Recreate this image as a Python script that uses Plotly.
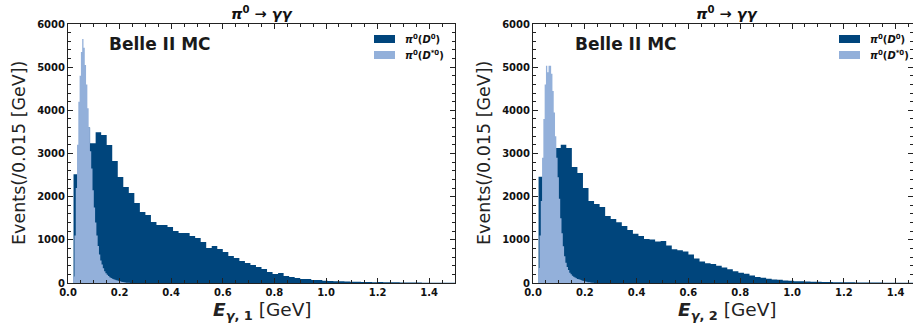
import numpy as np
import plotly.graph_objects as go

# ---------------- data ----------------
# pi0(D0): 70 bins on [0, 1.5] GeV; counts start at bin index 1 (first bin empty)
d0_nbins = 70
d0_range = (0.0, 1.5)
d0_first_bin = 1
d0_counts_g1 = [2520, 3870, 3600, 3236, 3491, 3429, 3197, 2826, 2456, 2224,
                2085, 1853, 1645, 1575, 1413, 1344, 1344, 1297, 1204, 1158,
                1158, 1089, 1042, 950, 811, 857, 788, 718, 625, 579,
                510, 463, 417, 371, 324, 255, 208, 232, 162, 139,
                116, 93, 93, 70, 70, 50, 46, 42, 38, 33,
                30, 27, 24, 22, 20, 26, 18, 16, 15, 13,
                12, 10, 10, 8, 8, 6, 6, 5, 5]
d0_counts_g2 = [2460, 3540, 3350, 3130, 3200, 3130, 2690, 2550, 2200, 1900,
                1830, 1760, 1550, 1480, 1410, 1320, 1230, 1140, 1090, 1020,
                1010, 960, 975, 870, 780, 760, 730, 660, 570, 500,
                460, 440, 400, 360, 320, 270, 240, 215, 175, 140,
                120, 100, 80, 75, 60, 50, 42, 38, 34, 30,
                27, 24, 22, 20, 18, 17, 15, 14, 12, 11,
                10, 9, 8, 7, 6, 5, 5, 4, 4]

# pi0(D*0): 0.005 GeV bins starting at 0.020 GeV
dst_bin_w = 0.005
dst_start = 0.020
dst_counts_g1 = [150, 1100, 2200, 3200, 4200, 4800, 5350, 5650, 5450, 5050,
                 4600, 4050, 3600, 3050, 2650, 2150, 1750, 1400, 1100, 860,
                 660, 520, 430, 340, 275, 225, 190, 160, 135, 115,
                 100, 88, 76, 66, 56, 47, 38, 30, 23, 17, 12, 8, 5, 3]
dst_counts_g2 = [350, 1100, 1900, 2900, 3800, 4600, 5030, 4880, 5030, 5030,
                 4850, 4450, 3950, 3400, 2900, 2450, 1950, 1500, 1150, 850,
                 620, 470, 370, 300, 240, 200, 170, 145, 125, 110,
                 95, 85, 75, 65, 55, 45, 36, 28, 20, 15, 10, 6, 4]

x_ticks = [0.0, 0.2, 0.4, 0.6, 0.8, 1.0, 1.2, 1.4]
y_ticks = [0, 1000, 2000, 3000, 4000, 5000, 6000]

label_d0 = "<b><i>π</i><sup>0</sup>(<i>D</i><sup>0</sup>)</b>"
label_dst = "<b><i>π</i><sup>0</sup>(<i>D</i><sup>*0</sup>)</b>"
panel_title = "<b><i>π</i><sup>0</sup> → <i>γγ</i></b>"
x_titles = ["<b><i>E</i><sub><i>γ</i>, 1</sub></b> [GeV]",
            "<b><i>E</i><sub><i>γ</i>, 2</sub></b> [GeV]"]
y_title = "Events(/0.015 [GeV])"

# ---------------- style ----------------
DARK = "#00457C"
LIGHT = "#93B0DA"
FONT = "DejaVu Sans"
W, H = 913, 329
MT, MB = 24, 46
PLOT_H = H - MT - MB
PANEL_LEFT = [68, 533]
PX_PER_UNIT = 259.0
dom1 = [68 / W, 455 / W]
dom2 = [533 / W, 1.0]
xr1 = [0, 1.5]
xr2 = [0, 1.467]

d0_w = (d0_range[1] - d0_range[0]) / d0_nbins


def step_xy(edges, counts):
    xs = [edges[0]] + list(edges[:-1]) + [edges[-1]]
    ys = [0] + list(counts) + [0]
    return xs, ys


def d0_edges(counts):
    k = np.arange(d0_first_bin, d0_first_bin + len(counts) + 1)
    return d0_range[0] + k * d0_w


def dst_edges(counts):
    return dst_start + np.arange(len(counts) + 1) * dst_bin_w


fig = go.Figure()
panels = [(d0_counts_g1, dst_counts_g1, "x", "y"),
          (d0_counts_g2, dst_counts_g2, "x2", "y2")]
for d0c, dstc, xa, ya in panels:
    xs, ys = step_xy(d0_edges(d0c), d0c)
    fig.add_trace(go.Scatter(x=xs, y=ys, mode="lines", line=dict(shape="hv", width=0, color=DARK),
                             fill="tozeroy", fillcolor=DARK, name=label_d0,
                             xaxis=xa, yaxis=ya, showlegend=False))
    xs, ys = step_xy(dst_edges(dstc), dstc)
    fig.add_trace(go.Scatter(x=xs, y=ys, mode="lines", line=dict(shape="hv", width=0, color=LIGHT),
                             fill="tozeroy", fillcolor=LIGHT, name=label_dst,
                             xaxis=xa, yaxis=ya, showlegend=False))

axis_common = dict(showline=True, linecolor="#222", linewidth=1, mirror="allticks",
                   ticks="inside", ticklen=5, tickwidth=1, tickcolor="#222",
                   showgrid=False, zeroline=False, automargin=False,
                   tickfont=dict(family=FONT, size=10, color="#111", weight="bold"))

xaxis_common = dict(axis_common, tickvals=x_ticks, tickformat=".1f",
                    minor=dict(dtick=0.05, tick0=0, ticks="inside", ticklen=3, tickcolor="#222"))
yaxis_common = dict(axis_common, range=[0, 6000], tickvals=y_ticks, tickformat="d",
                    minor=dict(dtick=200, tick0=0, ticks="inside", ticklen=3, tickcolor="#222"))

fig.update_layout(
    width=W, height=H, margin=dict(l=0, r=0, t=MT, b=MB),
    plot_bgcolor="white", paper_bgcolor="white",
    xaxis=dict(xaxis_common, domain=dom1, range=xr1, anchor="y"),
    yaxis=dict(yaxis_common, domain=[0, 1], anchor="x"),
    xaxis2=dict(xaxis_common, domain=dom2, range=xr2, anchor="y2"),
    yaxis2=dict(yaxis_common, domain=[0, 1], anchor="x2"),
    showlegend=False,
)


def py(y_px):
    """pixel row -> paper y"""
    return (H - MB - y_px) / PLOT_H


annotations = []
shapes = []
for i, (xa, ya) in enumerate([("x", "y"), ("x2", "y2")]):
    left = PANEL_LEFT[i]
    cx = (left + 0.75 * PX_PER_UNIT) / W
    annotations.append(dict(text=panel_title, xref="paper", yref="paper", x=cx, y=py(13),
                            xanchor="center", yanchor="middle", showarrow=False,
                            font=dict(family=FONT, size=14.5, color="#111")))
    annotations.append(dict(text="<b>Belle II MC</b>", xref=xa, yref=ya, x=0.153, y=5540,
                            xanchor="left", yanchor="middle", showarrow=False,
                            font=dict(family=FONT, size=17, color="#1a1a1a")))
    annotations.append(dict(text=x_titles[i], xref="paper", yref="paper", x=cx, y=py(311),
                            xanchor="center", yanchor="middle", showarrow=False,
                            font=dict(family=FONT, size=18.5, color="#222")))
    annotations.append(dict(text=y_title, xref="paper", yref="paper",
                            x=(left - 49) / W, y=py(153),
                            xanchor="center", yanchor="middle", textangle=-90, showarrow=False,
                            font=dict(family=FONT, size=17.5, color="#222")))
    # legend (patch + label)
    leg_x0 = left + 306
    for j, (lab, col) in enumerate([(label_d0, DARK), (label_dst, LIGHT)]):
        yc = 39 + 16 * j
        shapes.append(dict(type="rect", xref="paper", yref="paper",
                           x0=leg_x0 / W, x1=(leg_x0 + 21) / W,
                           y0=py(yc + 4), y1=py(yc - 4),
                           fillcolor=col, line=dict(width=0)))
        annotations.append(dict(text=lab, xref="paper", yref="paper",
                                x=(leg_x0 + 29) / W, y=py(yc),
                                xanchor="left", yanchor="middle", showarrow=False,
                                font=dict(family=FONT, size=10, color="#111")))
fig.update_layout(annotations=annotations, shapes=shapes)

fig.write_html("out.html", config={"displayModeBar": False},
               post_script="document.body.style.margin='0';")
